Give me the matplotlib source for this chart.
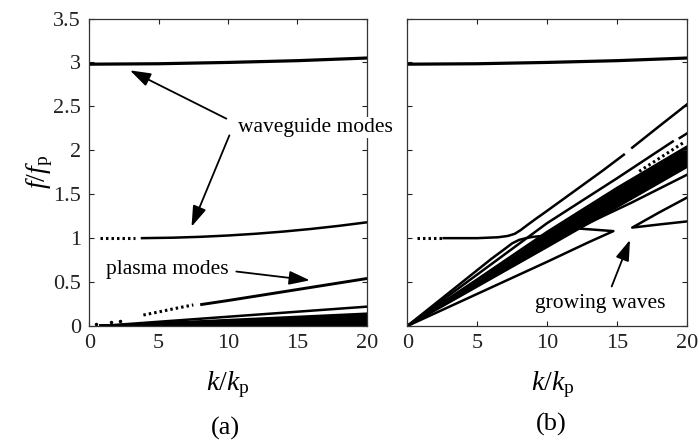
import matplotlib
matplotlib.use("Agg")
import matplotlib.pyplot as plt
import numpy as np

plt.rcParams['font.family'] = ['Liberation Serif', 'DejaVu Serif']
plt.rcParams['mathtext.fontset'] = 'custom'
plt.rcParams['mathtext.rm'] = 'Liberation Serif'
plt.rcParams['mathtext.it'] = 'Liberation Serif:italic'

# ---------------- data ----------------
x_ticks = [0, 5, 10, 15, 20]
y_ticks = [0, 0.5, 1, 1.5, 2, 2.5, 3, 3.5]
y_tick_labels = ['0', '0.5', '1', '1.5', '2', '2.5', '3', '3.5']

# waveguide mode near f = 3 (both panels)
wg3_k = [0, 5, 10, 15, 20]
wg3_f = [2.98, 2.985, 3.0, 3.02, 3.05]

# panel (a): waveguide mode near f = 1
a_wg1_dot_k = [0.8, 3.3]
a_wg1_dot_f = [1.0, 1.0]
a_wg1_k = [3.8, 6, 8, 10, 12, 14, 16, 18, 20]
a_wg1_f = [1.0, 1.005, 1.015, 1.03, 1.05, 1.075, 1.105, 1.14, 1.18]

# panel (a): plasma mode
a_pl_dot_k = [3.9, 5.0, 6.2, 7.5]
a_pl_dot_f = [0.125, 0.16, 0.2, 0.24]
a_pl_k = [8.1, 10, 12, 14, 16, 18, 20]
a_pl_f = [0.245, 0.29, 0.34, 0.39, 0.44, 0.49, 0.54]

# panel (a): slow beam modes fanning from small k
a_slow_start_k = 0.8
a_slow_end_f = [0.22, 0.14, 0.125, 0.11, 0.095, 0.08, 0.065, 0.05, 0.035, 0.02]
a_band_top_f = 0.12
a_dots_k = [0.5, 1.6, 2.2]
a_dots_f = [0.02, 0.05, 0.06]

# panel (b): upper coupled branch (from f = 1 waveguide mode)
b_up_dot_k = [0.7, 2.6]
b_up_dot_f = [1.0, 1.0]
b_up_k = [2.6, 5, 6.5, 7.2, 7.7, 8.1, 8.6, 9.2, 10, 12, 14, 15.5]
b_up_f = [1.0, 1.0, 1.01, 1.025, 1.05, 1.09, 1.15, 1.22, 1.31, 1.54, 1.77, 1.95]
b_up2_k = [16.1, 18, 20]
b_up2_f = [2.03, 2.27, 2.52]

# panel (b): lower coupled branch (beam line turning flat)
b_low_k = [0, 2, 4, 6, 7, 7.5, 8, 8.5, 9, 10, 11, 11.6]
b_low_f = [0, 0.254, 0.508, 0.762, 0.88, 0.94, 0.98, 1.0, 1.015, 1.03, 1.05, 1.08]

# panel (b): line just above the dense band (dashed near the end)
b_top_k = [0, 10, 15, 19.0]
b_top_f = [0, 1.17, 1.68, 2.10]
b_top2_k = [19.5, 20]
b_top2_f = [2.14, 2.19]

# panel (b): dense band of beam modes
b_band_k = [0, 5, 10, 15, 20]
b_band_lo = [0, 0.45, 0.9, 1.355, 1.81]
b_band_hi = [0, 0.53, 1.07, 1.57, 2.04]
b_band_dot_k = [16.6, 19.8]
b_band_dot_f = [1.76, 2.09]

# panel (b): lower branch with the Z turn, then line below the band
b_z_k = [0, 5, 10, 13, 14.75, 13.5, 12.2, 14, 16, 18, 20]
b_z_f = [0, 0.365, 0.73, 0.955, 1.08, 1.095, 1.11, 1.25, 1.40, 1.56, 1.72]

# panel (b): V-shaped growing-wave branch
b_v_k = [20, 18, 16.1, 18, 20]
b_v_f = [1.46, 1.29, 1.12, 1.155, 1.19]

# ---------------- figure ----------------
W, H = 699, 441
fig = plt.figure(figsize=(W / 100, H / 100), dpi=100)

def px(x, y):
    return x / W, 1 - y / H

axA = fig.add_axes([89.3 / W, 1 - 326 / H, (366.7 - 89.3) / W, (326 - 18.5) / H])
axB = fig.add_axes([407.3 / W, 1 - 326 / H, (686.7 - 407.3) / W, (326 - 18.5) / H])

LW = 1.8
DOT = dict(color='k', lw=2.2, linestyle=(0, (0.8, 1.0)))

for ax in (axA, axB):
    ax.set_xlim(0, 20)
    ax.set_ylim(0, 3.5)
    ax.set_xticks(x_ticks)
    ax.set_yticks(y_ticks)
    ax.tick_params(direction='in', length=3.5, width=0.8, top=True, right=True,
                   labelsize=16, pad=6, colors='#222222')
    for s in ax.spines.values():
        s.set_linewidth(0.9)
        s.set_color('#333333')
    ax.plot(wg3_k, wg3_f, color='k', lw=LW + 0.5)

axA.set_yticklabels(y_tick_labels)
axB.set_yticklabels([])

# ---- panel (a)
axA.plot(a_wg1_dot_k, a_wg1_dot_f, **DOT)
axA.plot(a_wg1_k, a_wg1_f, color='k', lw=LW)
axA.plot(a_pl_dot_k, a_pl_dot_f, **DOT)
axA.plot(a_pl_k, a_pl_f, color='k', lw=LW + 0.3)
for fe in a_slow_end_f:
    axA.plot([a_slow_start_k, 20], [0, fe], color='k', lw=LW)
axA.fill_between([a_slow_start_k, 20], [0, 0], [0, a_band_top_f], color='k', lw=0)
axA.plot(a_dots_k, a_dots_f, 'k.', ms=3)

# ---- panel (b)
axB.plot(b_up_dot_k, b_up_dot_f, **DOT)
axB.plot(b_up_k, b_up_f, color='k', lw=LW)
axB.plot(b_up2_k, b_up2_f, color='k', lw=LW)
axB.fill_between(b_band_k, b_band_lo, b_band_hi, color='k', lw=0)
axB.plot(b_band_k, b_band_lo, color='k', lw=LW)
axB.plot(b_band_k, b_band_hi, color='k', lw=LW)
axB.plot(b_band_dot_k, b_band_dot_f, **DOT)
axB.plot(b_top_k, b_top_f, color='k', lw=LW)
axB.plot(b_top2_k, b_top2_f, color='k', lw=LW)
axB.plot(b_low_k, b_low_f, color='k', lw=LW)
axB.plot(b_z_k, b_z_f, color='k', lw=LW)
axB.plot(b_v_k, b_v_f, color='k', lw=LW)

# ---- annotations
ap = dict(arrowstyle='-|>,head_length=0.9,head_width=0.3', lw=1.3, color='k',
          shrinkA=0, shrinkB=0, mutation_scale=14)
axA.annotate('', xy=(2.93, 2.91), xytext=(9.88, 2.36), arrowprops=ap)
axA.annotate('', xy=(7.37, 1.13), xytext=(10.1, 2.17), arrowprops=ap)
axA.annotate('', xy=(15.9, 0.52), xytext=(10.6, 0.62), arrowprops=ap)
axB.annotate('', xy=(15.94, 0.98), xytext=(14.63, 0.45), arrowprops=ap)

axA.text(10.72, 2.21, 'waveguide modes', fontsize=15.5, ha='left', va='baseline',
         clip_on=False, zorder=5,
         bbox=dict(facecolor='white', edgecolor='none', pad=1))
axA.text(1.2, 0.59, 'plasma modes', fontsize=15.5, ha='left', va='baseline')
axB.text(9.14, 0.20, 'growing waves', fontsize=15.5, ha='left', va='baseline')

# axis labels and panel letters
fig.text(*px(228, 390), r'$k/k_{\mathrm{p}}$', fontsize=20, ha='center', va='baseline')
fig.text(*px(553, 390), r'$k/k_{\mathrm{p}}$', fontsize=20, ha='center', va='baseline')
fig.text(*px(40, 172), r'$f/f_{\mathrm{p}}$', fontsize=20, ha='center', va='center', rotation=90)
fig.text(*px(225, 428), '(a)', fontsize=19, ha='center', va='center')
fig.text(*px(551, 424), '(b)', fontsize=19, ha='center', va='center')

fig.savefig('out.png', dpi=100)
